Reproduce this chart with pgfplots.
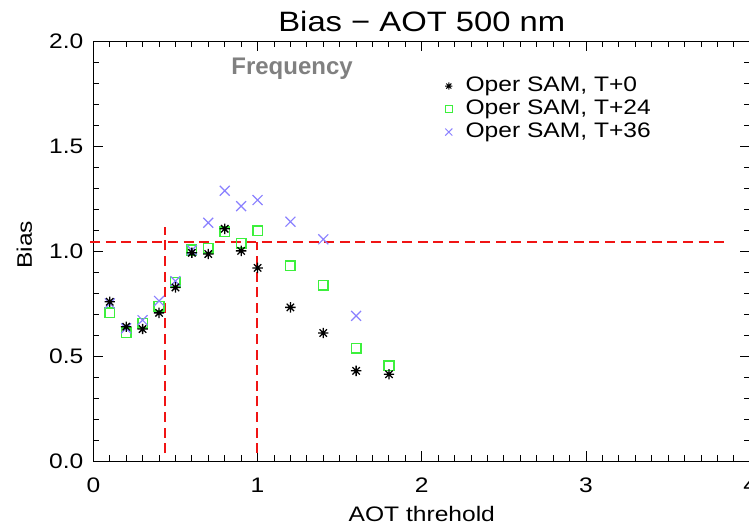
\documentclass[border=0pt]{standalone}
\usepackage{fontspec}
\setmainfont{Liberation Sans}[FakeStretch=1.17]
\newfontfamily\helv{Liberation Sans}
\usepackage{pgfplots}
\pgfplotsset{compat=1.18}
\definecolor{sqgreen}{HTML}{3CF03C}
\definecolor{xblue}{HTML}{8A80FF}
\definecolor{refred}{HTML}{F01414}
\pgfdeclareplotmark{ast8}{%
  \pgfpathmoveto{\pgfqpoint{0pt}{\pgfplotmarksize}}\pgfpathlineto{\pgfqpoint{0pt}{-\pgfplotmarksize}}%
  \pgfpathmoveto{\pgfqpoint{\pgfplotmarksize}{0pt}}\pgfpathlineto{\pgfqpoint{-\pgfplotmarksize}{0pt}}%
  \pgfpathmoveto{\pgfqpoint{.707\pgfplotmarksize}{.707\pgfplotmarksize}}\pgfpathlineto{\pgfqpoint{-.707\pgfplotmarksize}{-.707\pgfplotmarksize}}%
  \pgfpathmoveto{\pgfqpoint{-.707\pgfplotmarksize}{.707\pgfplotmarksize}}\pgfpathlineto{\pgfqpoint{.707\pgfplotmarksize}{-.707\pgfplotmarksize}}%
  \pgfusepathqstroke}
\pgfplotsset{dotlegend/.style={legend image code/.code={\draw[##1] plot coordinates {(0pt,0pt)};}}}
\begin{document}
\begin{tikzpicture}
\begin{axis}[
  scale only axis,
  width=328.35pt, height=210pt,
  xmin=0, xmax=4, ymin=0, ymax=2,
  xtick={0,1,2,3,4}, ytick={0,0.5,1,1.5,2},
  minor x tick num=9, minor y tick num=4,
  tick align=inside,
  major tick length=5pt, minor tick length=3pt,
  every tick/.style={black, line width=0.5pt},
  axis line style={line width=0.5pt},
  clip=false,
  /pgf/number format/assume math mode=true,
  tick label style={font=\fontsize{10.5}{12.6}\selectfont},
  yticklabel style={/pgf/number format/.cd, fixed, fixed zerofill, precision=1, /tikz/.cd, xshift=-1.5pt},
  xticklabel style={yshift=-5pt},
  title={Bias − AOT 500 nm},
  every axis title/.style={at={(axis description cs:0.5,1.0476)}, anchor=center, font=\fontsize{14}{16.8}\selectfont},
  xlabel={AOT threhold},
  xlabel style={at={(axis description cs:0.5,-0.125)}, anchor=center, font=\fontsize{10.5}{12.6}\selectfont},
  ylabel={Bias},
  ylabel style={at={(axis description cs:-0.105,0.515)}, anchor=center, font=\fontsize{10.5}{12.6}\selectfont},
  legend style={draw=none, fill=none, at={(axis description cs:0.535,0.838)}, anchor=west,
    font=\fontsize{10.5}{12.6}\selectfont, inner sep=0pt, row sep=1.8pt, column sep=6.6pt,
    nodes={inner sep=0pt, text height=7.5pt, text depth=2.2pt}},
  legend cell align=left,
]
% reference lines
\addplot[refred, line width=1pt, dash pattern=on 5pt off 2.8pt, forget plot] coordinates {(-0.02,1.045) (3.85,1.045)};
\addplot[refred, line width=1pt, dash pattern=on 5pt off 2.8pt, forget plot] coordinates {(0.437,0.038) (0.437,1.116)};
\addplot[refred, line width=1pt, dash pattern=on 5pt off 2.8pt, forget plot] coordinates {(0.995,0.038) (0.995,1.045)};
% T+24
\addplot[only marks, mark=square, mark size=2.4pt, sqgreen, line width=0.8pt, forget plot] coordinates {
(0.1,0.706) (0.2,0.611) (0.3,0.656) (0.4,0.738) (0.5,0.851) (0.6,1.005) (0.7,1.013)
(0.8,1.092) (0.9,1.037) (1.0,1.097) (1.2,0.930) (1.4,0.838) (1.6,0.538) (1.8,0.454)};
% T+36
\addplot[only marks, mark=x, mark size=3.5pt, xblue, line width=0.6pt, forget plot] coordinates {
(0.1,0.751) (0.2,0.632) (0.3,0.671) (0.4,0.763) (0.5,0.857) (0.6,1.005) (0.7,1.135)
(0.8,1.287) (0.9,1.214) (1.0,1.243) (1.2,1.140) (1.4,1.056) (1.6,0.692)};
% T+0
\addplot[only marks, mark=ast8, mark size=2.6pt, black, line width=0.65pt, forget plot] coordinates {
(0.1,0.759) (0.2,0.640) (0.3,0.629) (0.4,0.706) (0.5,0.827) (0.6,0.992) (0.7,0.986)
(0.8,1.106) (0.9,1.001) (1.0,0.920) (1.2,0.732) (1.4,0.610) (1.6,0.430) (1.8,0.414)};
\addlegendimage{only marks, mark=ast8, mark size=1.8pt, black, line width=0.5pt, dotlegend}
\addlegendentry{Oper SAM, T+0}
\addlegendimage{only marks, mark=square, mark size=1.7pt, sqgreen, line width=0.7pt, dotlegend}
\addlegendentry{Oper SAM, T+24}
\addlegendimage{only marks, mark=x, mark size=2.5pt, xblue, line width=0.5pt, dotlegend}
\addlegendentry{Oper SAM, T+36}
\node[anchor=base, text=black!50, font=\helv\bfseries\fontsize{12}{14.4}\selectfont] at (axis cs:1.21,1.84) {Frequency};
\coordinate (ll) at (rel axis cs:0,0);
\coordinate (ur) at (rel axis cs:1,1);
\end{axis}
\pgfresetboundingbox
\path[use as bounding box] ([xshift=-46.65pt,yshift=-33.5pt]ll) rectangle ([xshift=-0.65pt,yshift=20.5pt]ur);
\end{tikzpicture}
\end{document}
